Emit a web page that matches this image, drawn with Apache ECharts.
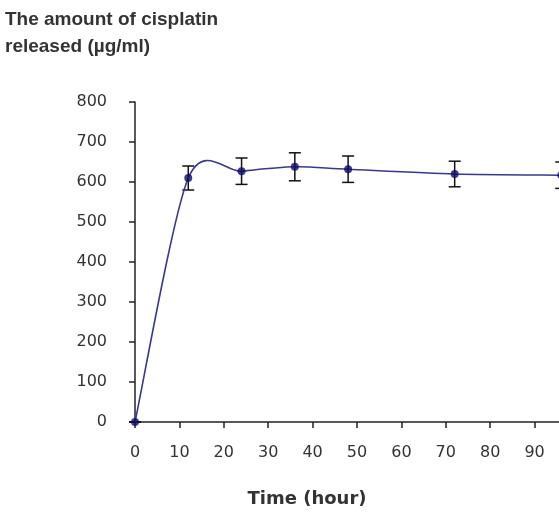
<!DOCTYPE html>
<html>
<head>
<meta charset="utf-8">
<script src="https://cdn.jsdelivr.net/npm/echarts@6/dist/echarts.min.js"></script>
<style>
  html, body { margin: 0; padding: 0; background: #fff; }
  #chart { width: 559px; height: 517px; }
</style>
</head>
<body>
<div id="chart"></div>
<script>
// data
var hours = [0, 12, 24, 36, 48, 72, 96];
var released = [0, 610, 627, 638, 632, 620, 617];
var sd = [0, 30, 33, 35, 33, 32, 33];
var xTicks = [0, 10, 20, 30, 40, 50, 60, 70, 80, 90, 100];
var yTicks = [0, 100, 200, 300, 400, 500, 600, 700, 800];

var chart = echarts.init(document.getElementById('chart'));

var linePts = [];
var errPts = [];
for (var i = 0; i < hours.length; i++) {
    linePts.push([hours[i], released[i]]);
    errPts.push([hours[i], released[i] - sd[i], released[i] + sd[i]]);
}

var textColor = '#333';
var axisColor = '#222';
var tickFont = 'DejaVu Sans, Verdana, sans-serif';

// spreadsheet-style smoothed line (cardinal spline)
var tension = 1 / 7;
function renderCurve(params, api) {
    var i = params.dataIndex;
    if (i >= hours.length - 1) return null;
    var p = function (k) {
        k = Math.max(0, Math.min(hours.length - 1, k));
        return api.coord([hours[k], released[k]]);
    };
    var p0 = p(i - 1), p1 = p(i), p2 = p(i + 1), p3 = p(i + 2);
    var c1 = [p1[0] + (p2[0] - p0[0]) * tension, p1[1] + (p2[1] - p0[1]) * tension];
    var c2 = [p2[0] - (p3[0] - p1[0]) * tension, p2[1] - (p3[1] - p1[1]) * tension];
    return {
        type: 'bezierCurve',
        shape: { x1: p1[0], y1: p1[1], x2: p2[0], y2: p2[1], cpx1: c1[0], cpy1: c1[1], cpx2: c2[0], cpy2: c2[1] },
        style: { stroke: '#38388f', lineWidth: 1.6, fill: null }
    };
}

var option = {
    animation: false,
    title: {
        text: 'The amount of cisplatin\nreleased (\u00b5g/ml)',
        left: 5,
        top: 6,
        padding: 0,
        textStyle: {
            fontFamily: 'Liberation Sans, Arial, sans-serif',
            fontSize: 19,
            fontWeight: 'bold',
            color: textColor,
            lineHeight: 27
        }
    },
    grid: { left: 135, top: 102, width: 444, height: 320, outerBoundsMode: 'none' },
    xAxis: {
        type: 'value',
        min: xTicks[0],
        max: xTicks[xTicks.length - 1],
        interval: 10,
        name: 'Time (hour)',
        nameLocation: 'middle',
        nameGap: 68,
        nameTextStyle: {
            fontFamily: tickFont,
            fontSize: 18,
            fontWeight: 'bold',
            color: textColor,
            padding: [0, 100, 0, 0]
        },
        splitLine: { show: false },
        axisLine: { lineStyle: { color: axisColor, width: 1.5 } },
        axisTick: { inside: false, length: 6, lineStyle: { color: axisColor, width: 1.5 } },
        axisLabel: {
            margin: 23,
            fontFamily: tickFont,
            fontSize: 16,
            color: textColor
        }
    },
    yAxis: {
        type: 'value',
        min: yTicks[0],
        max: yTicks[yTicks.length - 1],
        interval: 100,
        splitLine: { show: false },
        axisLine: { show: true, lineStyle: { color: axisColor, width: 1.5 } },
        axisTick: { show: true, inside: false, length: 6, lineStyle: { color: axisColor, width: 1.5 } },
        axisLabel: {
            margin: 28,
            fontFamily: tickFont,
            fontSize: 16,
            color: textColor
        }
    },
    series: [
        {
            name: 'curve',
            type: 'custom',
            data: linePts,
            renderItem: renderCurve,
            z: 3
        },
        {
            name: 'released',
            type: 'scatter',
            data: linePts,
            symbol: 'circle',
            symbolSize: 8,
            itemStyle: { color: '#0b0b6b' },
            z: 4
        },
        {
            name: 'error',
            type: 'custom',
            data: errPts,
            renderItem: function (params, api) {
                var x = api.value(0);
                var lo = api.coord([x, api.value(1)]);
                var hi = api.coord([x, api.value(2)]);
                var hw = 6;
                var st = { stroke: '#111', lineWidth: 1.5 };
                return {
                    type: 'group',
                    children: [
                        { type: 'line', shape: { x1: lo[0], y1: lo[1], x2: hi[0], y2: hi[1] }, style: st },
                        { type: 'line', shape: { x1: lo[0] - hw, y1: lo[1], x2: lo[0] + hw, y2: lo[1] }, style: st },
                        { type: 'line', shape: { x1: hi[0] - hw, y1: hi[1], x2: hi[0] + hw, y2: hi[1] }, style: st }
                    ]
                };
            },
            z: 2
        }
    ]
};

chart.setOption(option);
</script>
</body>
</html>
